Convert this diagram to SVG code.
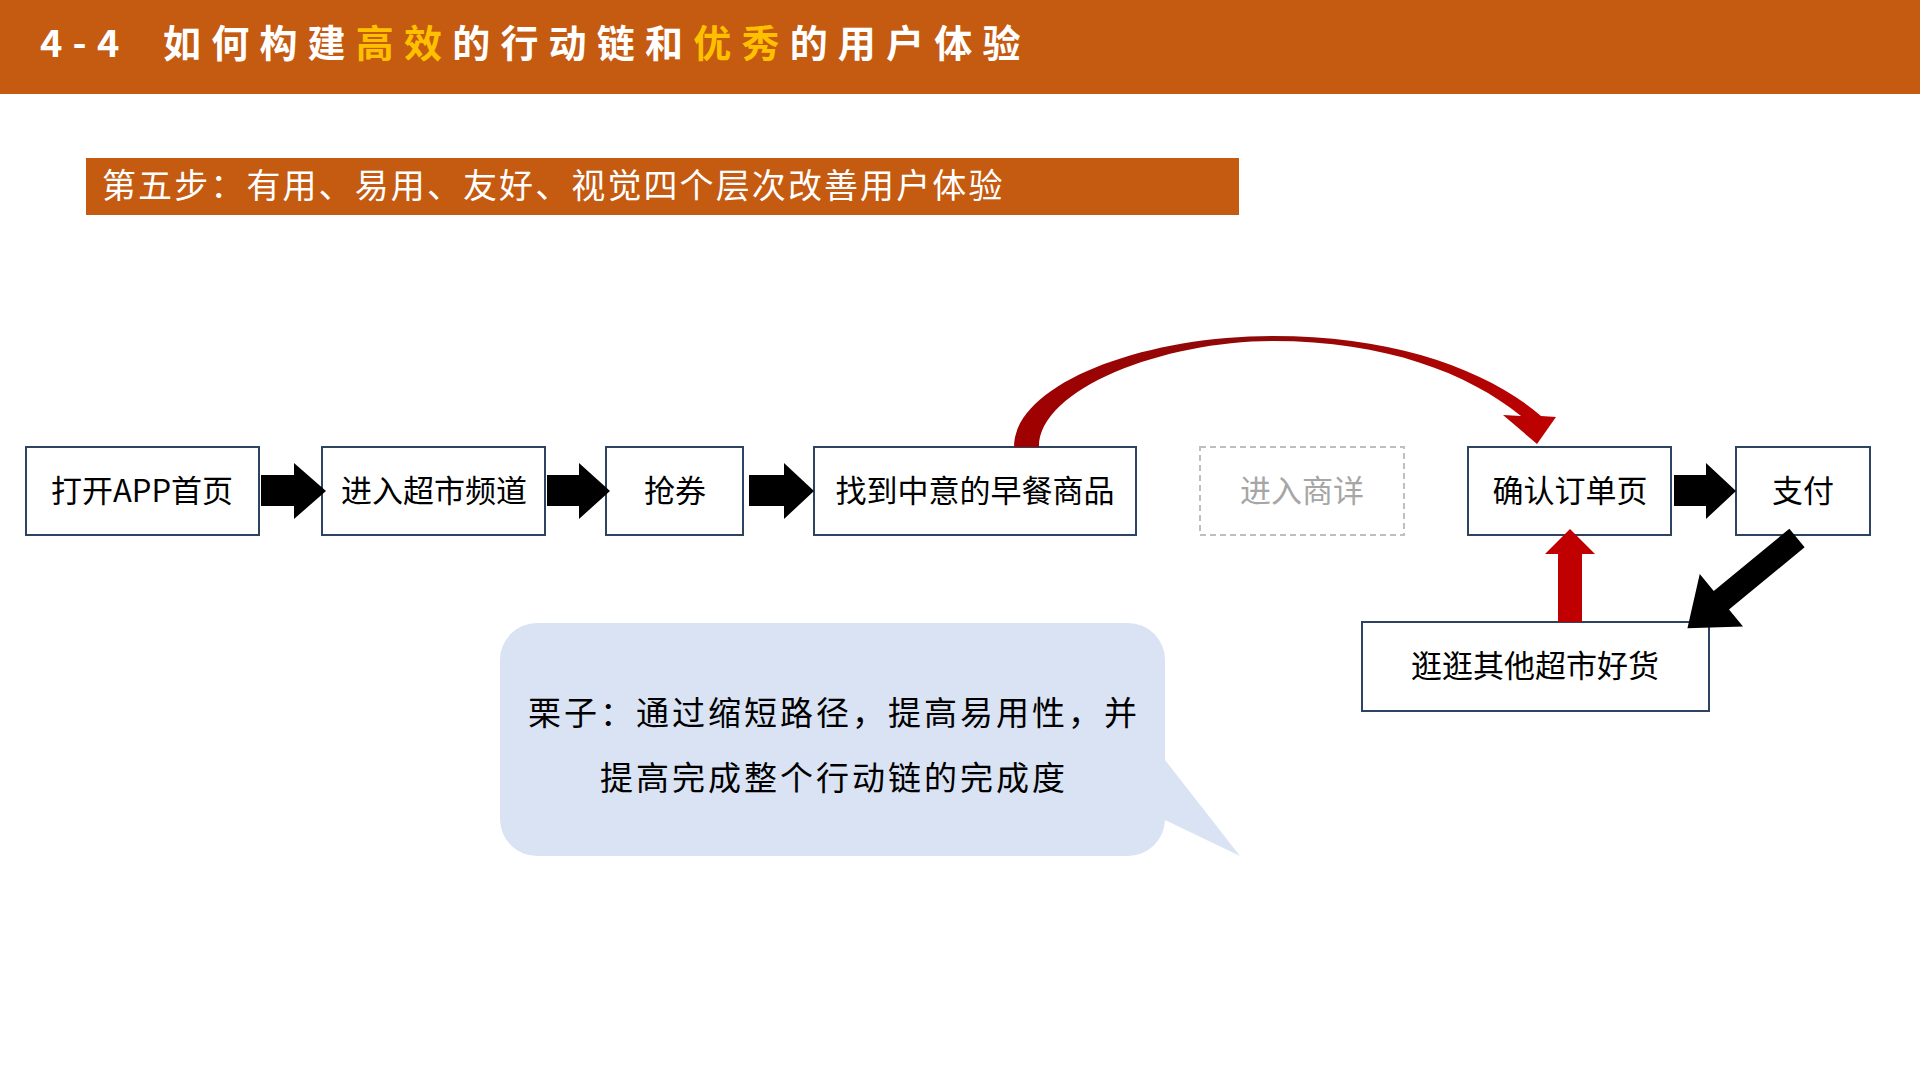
<svg xmlns="http://www.w3.org/2000/svg" width="1920" height="1080" viewBox="0 0 1920 1080">
<style>
.box{fill:#FFFFFF;stroke:#2E4360;stroke-width:2}
.dash{fill:#FFFFFF;stroke:#BFBFBF;stroke-width:2;stroke-dasharray:6 4}
.t{font-family:"Noto Sans CJK SC","Noto Sans",sans-serif;font-size:31px;fill:#000;text-anchor:middle}
.g{fill:#A6A6A6}
.blk{fill:#000}
.red{fill:#C00000}
.title{font-family:"Noto Sans CJK SC","Noto Sans",sans-serif;font-size:38px;font-weight:bold;fill:#FFFFFF;letter-spacing:10.2px}
.hl{fill:#FFC000}
.sub{font-family:"Noto Sans CJK SC","Noto Sans",sans-serif;font-size:34px;fill:#FFFFFF;letter-spacing:2.1px}
.bt{font-family:"Noto Sans CJK SC","Noto Sans",sans-serif;font-size:33px;fill:#000;text-anchor:middle;letter-spacing:3px}
</style>
<defs>
<linearGradient id="curveGrad" x1="1014" y1="0" x2="1560" y2="0" gradientUnits="userSpaceOnUse">
<stop offset="0" stop-color="#A00000"/>
<stop offset="0.45" stop-color="#8E0A0A"/>
<stop offset="1" stop-color="#C00000"/>
</linearGradient>
</defs>
<rect x="0" y="0" width="1920" height="1080" fill="#FFFFFF"/>
<g id="header">
<rect x="0" y="0" width="1920" height="94" fill="#C55A11"/>
<text class="title" x="40" y="57">4-4</text>
<text class="title" x="163" y="57">如何构建<tspan class="hl">高效</tspan>的行动链和<tspan class="hl">优秀</tspan>的用户体验</text>
</g>
<g id="subtitle">
<rect x="86" y="158" width="1153" height="57" fill="#C55A11"/>
<text class="sub" x="102" y="198">第五步：有用、易用、友好、视觉四个层次改善用户体验</text>
</g>
<g id="n1"><rect class="box" x="26" y="447" width="233" height="88"/><text class="t" x="142" y="502">打开APP首页</text></g>
<g id="n2"><rect class="box" x="322" y="447" width="223" height="88"/><text class="t" x="434" y="502">进入超市频道</text></g>
<g id="n3"><rect class="box" x="606" y="447" width="137" height="88"/><text class="t" x="675" y="502">抢券</text></g>
<g id="n4"><rect class="box" x="814" y="447" width="322" height="88"/><text class="t" x="975" y="502">找到中意的早餐商品</text></g>
<g id="n5"><rect class="dash" x="1200" y="447" width="204" height="88"/><text class="t g" x="1302" y="502">进入商详</text></g>
<g id="n6"><rect class="box" x="1468" y="447" width="203" height="88"/><text class="t" x="1570" y="502">确认订单页</text></g>
<g id="n7"><rect class="box" x="1736" y="447" width="134" height="88"/><text class="t" x="1803" y="502">支付</text></g>
<g id="n8"><rect class="box" x="1362" y="622" width="347" height="89"/><text class="t" x="1535" y="677">逛逛其他超市好货</text></g>
<g id="connectors">
<polygon class="blk" points="261,475 294,475 294,463 326,491 294,519 294,506 261,506"/>
<polygon class="blk" points="547,475 579,475 579,463 610,491 579,519 579,506 547,506"/>
<polygon class="blk" points="749,475 784,475 784,463 814,491 784,519 784,506 749,506"/>
<polygon class="blk" points="1674,475 1706,475 1706,463 1736,491 1706,519 1706,506 1674,506"/>
<g transform="translate(1797,538) rotate(140.5)">
<polygon class="blk" points="0,-12 98,-12 98,-34 142,0 98,34 98,12 0,12"/>
</g>
<polygon class="red" points="1558,622 1558,554 1545,554 1570,529 1595,554 1582,554 1582,622"/>
<path id="curved" fill="url(#curveGrad)" d="M 1014 447 C 1014 385 1140 336 1273 336 C 1395 336 1488 370 1541 416 L 1556 417 L 1537 444 L 1503 415 L 1521 416 C 1468 373 1385 341 1273 341 C 1165 341 1039 388 1039 447 Z"/>
</g>
<g id="bubble">
<path fill="#DAE3F3" d="M 537 623 L 1128 623 A 37 37 0 0 1 1165 660 L 1165 760 L 1240 856 L 1165 820 A 37 37 0 0 1 1128 856 L 537 856 A 37 37 0 0 1 500 819 L 500 660 A 37 37 0 0 1 537 623 Z"/>
<text class="bt" x="834" y="725">栗子：通过缩短路径，提高易用性，并</text>
<text class="bt" x="834" y="790">提高完成整个行动链的完成度</text>
</g>
</svg>
